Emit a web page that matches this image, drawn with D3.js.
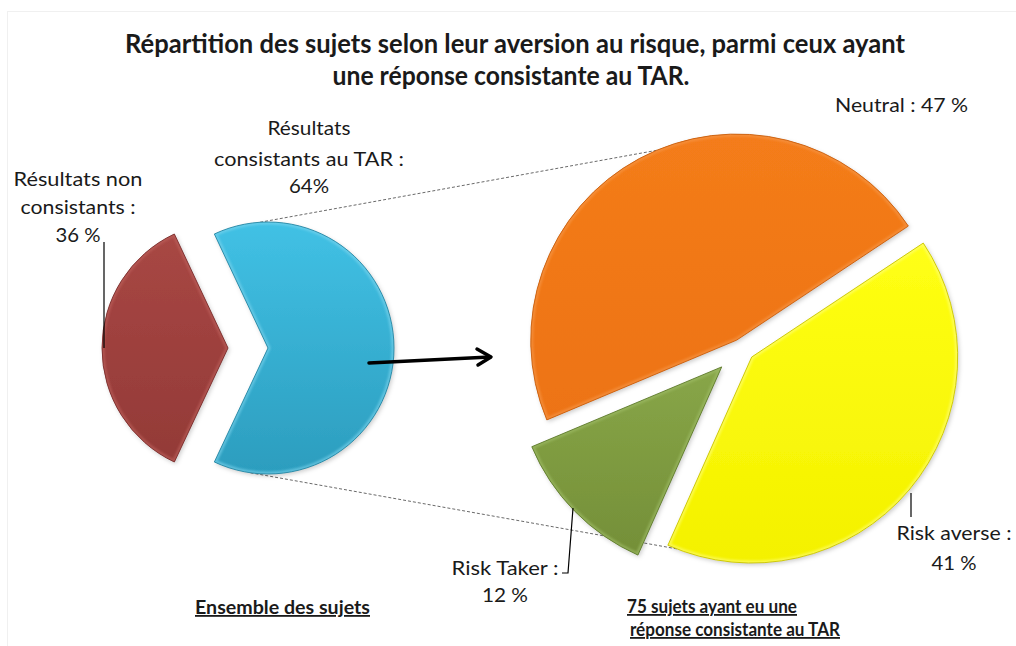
<!DOCTYPE html>
<html>
<head>
<meta charset="utf-8">
<script src="https://cdn.jsdelivr.net/npm/d3@7"></script>
<style>
  html, body { margin: 0; padding: 0; background: #ffffff; }
  svg { display: block; }
  text { font-family: Lato, "Open Sans", sans-serif; fill: #1a1a1a; }
</style>
</head>
<body>
<svg id="chart" width="1016" height="646"></svg>
<script>
// ---- Data ----
const titleLines = [
  "Répartition des sujets selon leur aversion au risque, parmi ceux ayant",
  "une réponse consistante au TAR."
];

// Whole sample: consistent vs non-consistent answers
const overallCategories = ["Résultats consistants au TAR", "Résultats non consistants"];
const overallValues = [64, 36];
const overallLabels = [
  ["Résultats", "consistants au TAR :", "64%"],
  ["Résultats non", "consistants :", "36 %"]
];

// Subjects with a consistent answer, by risk attitude
const subCategories = ["Risk averse", "Risk Taker", "Neutral"];
const subValues = [41, 12, 47];
const subLabels = [
  ["Risk averse :", "41 %"],
  ["Risk Taker :", "12 %"],
  ["Neutral : 47 %"]
];

const captionLeft = ["Ensemble des sujets"];
const captionRight = ["75 sujets ayant eu une", "réponse consistante au TAR"];

// ---- Styling ----
const overallColors = [
  { top: "#41c1e5", bottom: "#2c9dbe", rim: "#7fd6ef", edge: "#2686a3" },
  { top: "#a84744", bottom: "#933a37", rim: "#bf625e", edge: "#7a2e2c" }
];
const subColors = [
  { top: "#ffff14", bottom: "#f4f100", rim: "#ffff80", edge: "#c9c400" },
  { top: "#88a648", bottom: "#748f38", rim: "#a2bf69", edge: "#5f7a2c" },
  { top: "#f47c1a", bottom: "#ed7314", rim: "#f79a4c", edge: "#c85d0c" }
];

const svg = d3.select("#chart");
const defs = svg.append("defs");
const deg = Math.PI / 180;

// faint frame around the slide
svg.append("rect").attr("x", 7.5).attr("y", 11.5).attr("width", 1030).attr("height", 650)
  .attr("fill", "none").attr("stroke", "#f0f0f0").attr("stroke-width", 1);

// drop shadow
const sh = defs.append("filter").attr("id", "shadow")
  .attr("x", "-10%").attr("y", "-10%").attr("width", "130%").attr("height", "130%");
sh.append("feDropShadow").attr("dx", 1.5).attr("dy", 2).attr("stdDeviation", 2)
  .attr("flood-color", "#000").attr("flood-opacity", 0.2);

const rimBlur = defs.append("filter").attr("id", "rimblur");
rimBlur.append("feGaussianBlur").attr("stdDeviation", 1.2);

// ---- Title ----
const titleG = svg.append("g");
titleG.append("text").attr("x", 515).attr("y", 53).attr("text-anchor", "middle")
  .attr("font-size", 26).attr("font-weight", 700)
  .attr("textLength", 780).attr("lengthAdjust", "spacingAndGlyphs").text(titleLines[0]);
titleG.append("text").attr("x", 511).attr("y", 85).attr("text-anchor", "middle")
  .attr("font-size", 26).attr("font-weight", 700)
  .attr("textLength", 357).attr("lengthAdjust", "spacingAndGlyphs").text(titleLines[1]);

// ---- Pie helpers ----
function arcPoint(cx, cy, r, a) {
  return [cx + r * Math.sin(a), cy - r * Math.cos(a)];
}

function drawPie(opts) {
  const { id, values, colors, cx, cy, r, start, explode } = opts;
  const pie = d3.pie().sort(null).value(d => d)
    .startAngle(start).endAngle(start + 2 * Math.PI);
  const arc = d3.arc().innerRadius(0).outerRadius(r);
  const arcs = pie(values);
  const g = svg.append("g");
  arcs.forEach((d, i) => {
    const mid = (d.startAngle + d.endAngle) / 2;
    const ox = cx + explode[i] * Math.sin(mid);
    const oy = cy - explode[i] * Math.cos(mid);
    const c = colors[i];
    const gid = `${id}-grad-${i}`;
    const grad = defs.append("linearGradient").attr("id", gid)
      .attr("x1", 0).attr("y1", 0).attr("x2", 0).attr("y2", 1);
    grad.append("stop").attr("offset", "0%").attr("stop-color", c.top);
    grad.append("stop").attr("offset", "100%").attr("stop-color", c.bottom);
    const path = arc(d);
    const cid = `${id}-clip-${i}`;
    defs.append("clipPath").attr("id", cid).append("path").attr("d", path);
    const sg = g.append("g").attr("transform", `translate(${ox},${oy})`);
    sg.append("path").attr("d", path).attr("fill", `url(#${gid})`)
      .attr("filter", "url(#shadow)");
    // soft bevel rim inside the edge
    sg.append("g").attr("clip-path", `url(#${cid})`)
      .append("path").attr("d", path).attr("fill", "none")
      .attr("stroke", c.rim).attr("stroke-width", 5).attr("stroke-opacity", 0.6)
      .attr("stroke-linejoin", "round").attr("filter", "url(#rimblur)");
    sg.append("path").attr("d", path).attr("fill", "none")
      .attr("stroke", c.edge).attr("stroke-width", 0.9).attr("stroke-linejoin", "round");
  });
}

// ---- Geometry ----
const leftR = 126, rightR = 206;
const leftStart = Math.PI / 2 - (overallValues[0] / 100) * Math.PI;
const rightStart = 56.4 * deg;

const leftPieCenter = [248, 348], rightPieCenter = [741, 348];
const leftExplode = [20, 20], rightExplode = [14, 27, 9];

function slicePos(center, startA, values, explode, idx) {
  const pie = d3.pie().sort(null).value(d => d).startAngle(startA).endAngle(startA + 2 * Math.PI);
  const d = pie(values)[idx];
  const mid = (d.startAngle + d.endAngle) / 2;
  return [center[0] + explode[idx] * Math.sin(mid), center[1] - explode[idx] * Math.cos(mid)];
}
const blueC = slicePos(leftPieCenter, leftStart, overallValues, leftExplode, 0);
const orangeC = slicePos(rightPieCenter, rightStart, subValues, rightExplode, 2);
const yellowC = slicePos(rightPieCenter, rightStart, subValues, rightExplode, 0);

// dashed connectors first, so that the slices sit on top
const connectors = [
  [arcPoint(blueC[0], blueC[1], leftR, -3.6 * deg), arcPoint(orangeC[0], orangeC[1], rightR - 4, -16 * deg)],
  [arcPoint(blueC[0], blueC[1], leftR, 188 * deg), arcPoint(yellowC[0], yellowC[1], rightR - 4, 190.8 * deg)]
];
svg.append("g").selectAll("line").data(connectors).join("line")
  .attr("x1", d => d[0][0]).attr("y1", d => d[0][1])
  .attr("x2", d => d[1][0]).attr("y2", d => d[1][1])
  .attr("stroke", "#6a6a6a").attr("stroke-width", 1).attr("stroke-dasharray", "3,2");

drawPie({ id: "left", values: overallValues, colors: overallColors,
  cx: leftPieCenter[0], cy: leftPieCenter[1], r: leftR, start: leftStart, explode: leftExplode });
drawPie({ id: "right", values: subValues, colors: subColors,
  cx: rightPieCenter[0], cy: rightPieCenter[1], r: rightR, start: rightStart, explode: rightExplode });

// ---- Arrow from the consistent slice to the breakdown ----
const arrow = svg.append("g").attr("stroke", "#000").attr("fill", "none")
  .attr("stroke-width", 3.5).attr("stroke-linecap", "round").attr("stroke-linejoin", "round");
arrow.append("line").attr("x1", 369).attr("y1", 363).attr("x2", 490).attr("y2", 357);
arrow.append("path").attr("d", "M477,349 L491,357 L478,365");

// ---- Labels ----
const labelSize = 20;
function lines(g, x, baselines, arr, widths) {
  arr.forEach((t, i) => {
    const el = g.append("text").attr("x", x).attr("y", baselines[i])
      .attr("text-anchor", "middle").attr("font-size", labelSize).text(t);
    if (widths && widths[i]) el.attr("textLength", widths[i]).attr("lengthAdjust", "spacingAndGlyphs");
  });
}
const lab = svg.append("g");
lines(lab, 309, [135, 166, 193], overallLabels[0], [83, 190, 40]);
lines(lab, 78, [186, 214, 242], overallLabels[1], [129, 115, 45]);
lines(lab, 954, [540, 570], subLabels[0], [115, 45]);
lines(lab, 505, [575, 602], subLabels[1], [107, 46]);
lab.append("text").attr("x", 835).attr("y", 112).attr("font-size", labelSize)
  .attr("textLength", 133).attr("lengthAdjust", "spacingAndGlyphs").text(subLabels[2][0]);

// leader lines
const redC = slicePos(leftPieCenter, leftStart, overallValues, leftExplode, 1);
const redLeft = arcPoint(redC[0], redC[1], leftR, 270 * deg);
const leaders = svg.append("g").attr("stroke", "#000").attr("stroke-width", 1.2).attr("fill", "none");
leaders.append("path").attr("d", `M${redLeft[0] + 2},242 L${redLeft[0] + 2},${redLeft[1]}`);
leaders.append("path").attr("d", "M911,493 L911,517");
leaders.append("path").attr("d", "M573,508 L568,573 L562,573");

// ---- Captions ----
const cap = svg.append("g");
function caption(x, y, w, t) {
  cap.append("text").attr("x", x).attr("y", y).attr("font-weight", 700).attr("font-size", 18)
    .attr("text-decoration", "underline")
    .attr("textLength", w).attr("lengthAdjust", "spacingAndGlyphs").text(t);
}
caption(195, 614, 175, captionLeft[0]);
caption(627, 613, 170, captionRight[0]);
caption(630, 636, 210, captionRight[1]);
</script>
</body>
</html>
